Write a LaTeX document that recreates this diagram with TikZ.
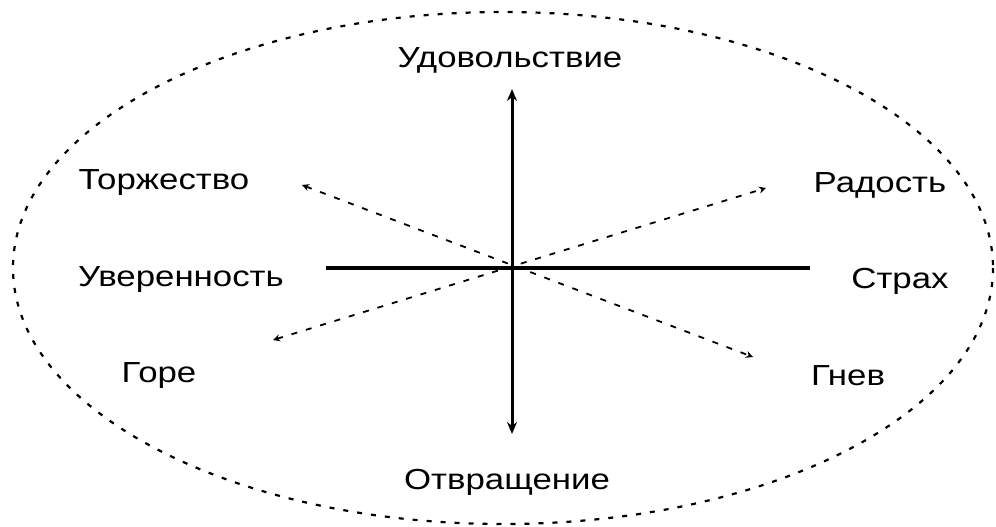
\documentclass[tikz,border=0pt]{standalone}
\usepackage{fontspec}
\setmainfont{Liberation Sans}[FakeStretch=1.2]
\usetikzlibrary{arrows.meta}
\begin{document}
\begin{tikzpicture}[x=1pt,y=-1pt,
  lbl/.style={font=\fontsize{29}{34}\selectfont, inner sep=0pt},
  axis/.style={line width=3pt, -{Stealth[length=12pt,width=10pt]}},
  diag/.style={line width=1.8pt, dash pattern=on 6pt off 9pt, {Stealth[length=7pt,width=7pt]}-{Stealth[length=7pt,width=7pt]}},
  rim/.style={line width=2.2pt, dash pattern=on 5pt off 9pt}]
\useasboundingbox (0,0) rectangle (996,527);
\draw[rim] (503,268) ellipse [x radius=490, y radius=256];
\coordinate (c) at (512,268);
\coordinate (up) at (512,89);
\coordinate (dn) at (512,434);
\coordinate (lt) at (326,268);
\coordinate (rt) at (810,268);
\coordinate (tl) at (302,185);
\coordinate (br) at (753,357);
\coordinate (bl) at (273,340);
\coordinate (tr) at (766,188);
\draw[axis] (c) -- (up);
\draw[axis] (c) -- (dn);
\draw[line width=4pt] (lt) -- (rt);
\draw[diag] (tl) -- (br);
\draw[diag] (bl) -- (tr);
\node[lbl] (n1) at (510,60) {Удовольствие};
\node[lbl] (n2) at (164,183) {Торжество};
\node[lbl] (n3) at (880,185) {Радость};
\node[lbl] (n4) at (181,280) {Уверенность};
\node[lbl] (n5) at (900,281) {Страх};
\node[lbl] (n6) at (159,376) {Горе};
\node[lbl] (n7) at (848,376) {Гнев};
\node[lbl] (n8) at (507,482) {Отвращение};
\end{tikzpicture}
\end{document}
